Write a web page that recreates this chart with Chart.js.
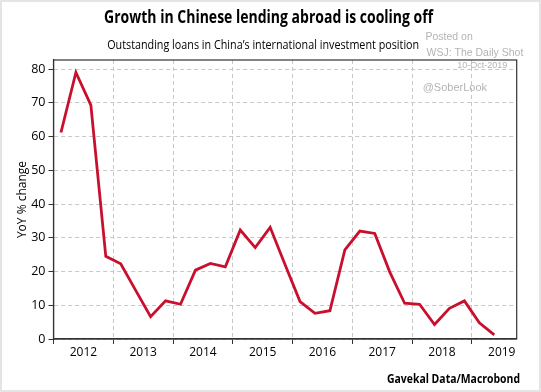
<!DOCTYPE html>
<html>
<head>
<meta charset="utf-8">
<script src="https://cdn.jsdelivr.net/npm/chart.js@4/dist/chart.umd.min.js"></script>
<style>
  html, body { margin: 0; padding: 0; background: #fff; }
  #wrap { width: 541px; height: 392px; position: relative; }
</style>
</head>
<body>
<div id="wrap"><canvas id="chart" width="541" height="392"></canvas></div>
<script>
// quarterly observations, YoY % change of outstanding loans
const quarters = [
  '2012Q1', '2012Q2', '2012Q3', '2012Q4',
  '2013Q1', '2013Q2', '2013Q3', '2013Q4',
  '2014Q1', '2014Q2', '2014Q3', '2014Q4',
  '2015Q1', '2015Q2', '2015Q3', '2015Q4',
  '2016Q1', '2016Q2', '2016Q3', '2016Q4',
  '2017Q1', '2017Q2', '2017Q3', '2017Q4',
  '2018Q1', '2018Q2', '2018Q3', '2018Q4',
  '2019Q1', '2019Q2'
];
const yoyChange = [
  61.2, 79.0, 69.3, 24.5,
  22.3, 14.4, 6.6, 11.3,
  10.3, 20.4, 22.4, 21.4,
  32.3, 27.1, 33.1, 22.0,
  11.1, 7.6, 8.4, 26.4,
  32.0, 31.3, 19.9, 10.6,
  10.3, 4.3, 9.1, 11.3,
  4.8, 1.2
];
const yearLabels = ['2012', '2013', '2014', '2015', '2016', '2017', '2018', '2019'];
const yTicks = [0, 10, 20, 30, 40, 50, 60, 70, 80];

const LEFT = 53.5, RIGHT = 516.7, TOP = 60, BOTTOM = 339;

// 2012Q1 -> 2012.125 etc (middle of quarter)
function quarterToX(q) {
  const year = parseInt(q.slice(0, 4));
  const n = parseInt(q.slice(5));
  return year + (n - 1) * 0.25 + 0.125;
}

const points = quarters.map((q, i) => ({ x: quarterToX(q), y: yoyChange[i] }));

const textPlugin = {
  id: 'texts',
  beforeDraw(chart) {
    const ctx = chart.ctx;
    ctx.save();
    ctx.fillStyle = '#fff';
    ctx.fillRect(0, 0, chart.width, chart.height);
    ctx.restore();
  },
  afterDraw(chart) {
    const ctx = chart.ctx;
    const area = chart.chartArea;
    ctx.save();
    // frame of the plot
    ctx.strokeStyle = '#333';
    ctx.lineWidth = 1.2;
    ctx.strokeRect(area.left, area.top, area.right - area.left, area.bottom - area.top);

    // outer light frame
    ctx.strokeStyle = '#e4e4e4';
    ctx.lineWidth = 2;
    ctx.strokeRect(1, 1, chart.width - 2, chart.height - 2);

    ctx.textBaseline = 'alphabetic';
    ctx.fillStyle = '#000';
    ctx.textAlign = 'center';
    ctx.font = 'bold 17px "Open Sans"';
    ctx.fillText('Growth in Chinese lending abroad is cooling off', 268.6, 22.6, 329);
    ctx.font = '12px "Open Sans"';
    ctx.fillText('Outstanding loans in China\u2019s international investment position', 263.2, 49, 312);

    ctx.textAlign = 'right';
    ctx.font = 'bold 12px "Open Sans"';
    ctx.fillText('Gavekal Data/Macrobond', 520, 383, 133);

    ctx.textAlign = 'left';
    ctx.fillStyle = '#b4b4b4';
    ctx.font = '10.5px "Liberation Sans"';
    ctx.fillText('Posted on', 425.5, 39.7);
    ctx.fillText('WSJ: The Daily Shot', 426.5, 55.5);
    ctx.font = '9px "Liberation Sans"';
    ctx.fillText('10-Oct-2019', 457.3, 68.3);
    ctx.font = '11px "Liberation Sans"';
    ctx.fillText('@SoberLook', 422.7, 91);
    ctx.restore();
  }
};

new Chart(document.getElementById('chart'), {
  type: 'line',
  data: {
    datasets: [{
      data: points,
      borderColor: '#c8102e',
      borderWidth: 2.8,
      pointRadius: 0,
      tension: 0,
      fill: false
    }]
  },
  options: {
    responsive: false,
    animation: false,
    layout: { padding: { left: 0, top: TOP, right: 541 - RIGHT, bottom: 0 } },
    plugins: {
      legend: { display: false },
      tooltip: { enabled: false }
    },
    scales: {
      x: {
        type: 'linear',
        min: 2012,
        max: 2019.75,
        afterBuildTicks(scale) {
          const ticks = [];
          yearLabels.forEach((y) => {
            ticks.push({ value: +y });
            ticks.push({ value: +y + 0.5 });
          });
          scale.ticks = ticks.filter(t => t.value <= 2019.75);
        },
        afterFit(scale) { scale.height = 392 - BOTTOM; },
        ticks: {
          autoSkip: false,
          maxRotation: 0,
          padding: 1,
          color: '#000',
          font: { family: 'Open Sans', size: 12 },
          callback(value) {
            return value % 1 === 0.5 ? String(Math.floor(value)) : '';
          }
        },
        grid: {
          color: (ctx) => (ctx.tick && ctx.tick.value % 1 === 0) ? '#c8c8c8' : 'rgba(0,0,0,0)',
          tickColor: (ctx) => (ctx.tick && ctx.tick.value % 1 === 0) ? '#333' : 'rgba(0,0,0,0)',
          tickLength: 5,
          lineWidth: 1
        },
        border: { color: '#333', width: 1.2, dash: [4, 3] }
      },
      y: {
        min: 0,
        max: 82.7,
        afterBuildTicks(scale) {
          scale.ticks = yTicks.map(v => ({ value: v }));
        },
        afterFit(scale) { scale.width = LEFT; },
        title: {
          display: true,
          text: 'YoY % change',
          color: '#000',
          font: { family: 'Open Sans', size: 12 },
          padding: { top: 15, bottom: 0 }
        },
        ticks: {
          padding: 3,
          color: '#000',
          font: { family: 'Open Sans', size: 12.5 }
        },
        grid: {
          color: '#c8c8c8',
          tickColor: '#333',
          tickLength: 5,
          lineWidth: 1
        },
        border: { color: '#333', width: 1.2, dash: [4, 3] }
      }
    }
  },
  plugins: [textPlugin]
});
</script>
</body>
</html>
